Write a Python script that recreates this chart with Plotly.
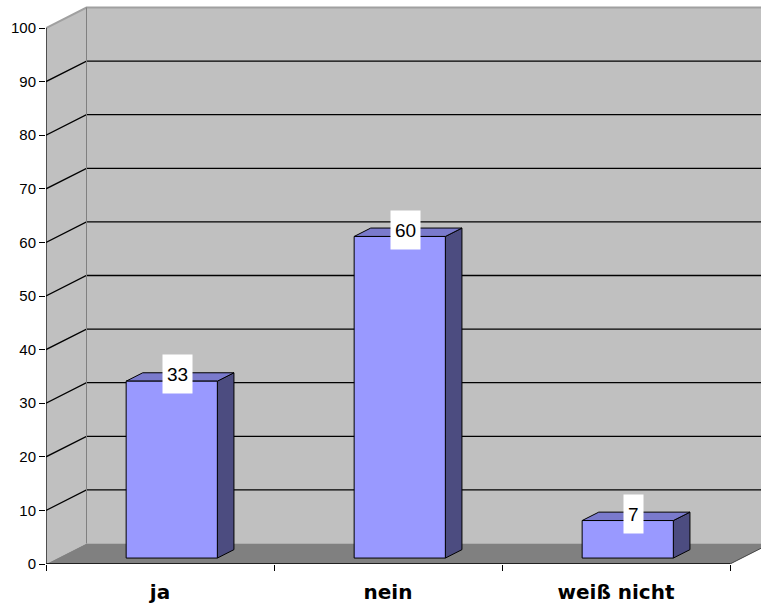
import plotly.graph_objects as go

# ---------------- data ----------------
categories = ["ja", "nein", "weiß nicht"]
values = [33, 60, 7]
y_ticks = list(range(0, 101, 10))

# ---------------- geometry / style constants ----------------
W, H = 761, 608
ML, MR, MT, MB = 46, 0, 0, 44
PX_PER_CAT = 228.0
PX_PER_UNIT = 5.36
XR = (W - ML - MR) / PX_PER_CAT
YR = (H - MT - MB) / PX_PER_UNIT
DX = 40.5 / PX_PER_CAT      # depth offset (x units)
DY = 20.5 / PX_PER_UNIT     # depth offset (y units)
F0, F1 = 0.29, 0.70         # bar depth band (fraction of depth)
BAR_W = 0.4                 # bar width as fraction of category
YMAX = max(y_ticks)
NCAT = len(categories)

WALL = "#C0C0C0"
FLOOR = "#808080"
FRONT = "#9999FF"
TOP = "#7A7ACC"
SIDE = "#4C4C80"

fig = go.Figure()


def poly(xs, ys, fill, line="rgba(0,0,0,0)", lw=0):
    fig.add_trace(go.Scatter(
        x=list(xs) + [xs[0]], y=list(ys) + [ys[0]], mode="lines",
        fill="toself", fillcolor=fill,
        line=dict(color=line, width=lw), hoverinfo="skip", showlegend=False))


def seg(xs, ys, color, lw):
    fig.add_trace(go.Scatter(
        x=xs, y=ys, mode="lines", line=dict(color=color, width=lw),
        hoverinfo="skip", showlegend=False))


XFAR = XR + 1.0
# side wall
poly([0, 0, DX, DX], [0, YMAX, YMAX + DY, DY], WALL)
# back wall
poly([DX, DX, XFAR, XFAR], [DY, YMAX + DY, YMAX + DY, DY], WALL)
# floor
poly([0, NCAT, NCAT + DX, XFAR, XFAR, DX], [0, 0, DY, DY, DY, DY], FLOOR)

# gridlines
for v in y_ticks[1:-1]:
    seg([0, DX, XFAR], [v, v + DY, v + DY], "#000000", 1.3)
# top edges
seg([0, DX, XFAR], [YMAX, YMAX + DY, YMAX + DY], "#A0A0A0", 2)
# wall corner
seg([DX, DX], [DY, YMAX + DY], "#808080", 1)
# axis lines
seg([0, 0], [0, YMAX], "#000000", 1.2)
seg([0, NCAT], [0, 0], "#202020", 2)
seg([NCAT, NCAT + DX * 1.2], [0, DY * 1.2], "#404040", 1)

# bars
bdx = (F1 - F0) * DX
bdy = (F1 - F0) * DY
for i, v in enumerate(values):
    x0 = i + (1 - BAR_W) / 2 + F0 * DX
    x1 = x0 + BAR_W
    y0 = F0 * DY
    y1 = y0 + v
    # side face
    poly([x1, x1 + bdx, x1 + bdx, x1], [y0, y0 + bdy, y1 + bdy, y1], SIDE, "#000000", 1)
    # top face
    poly([x0, x1, x1 + bdx, x0 + bdx], [y1, y1, y1 + bdy, y1 + bdy], TOP, "#000000", 1)
    # front face
    poly([x0, x1, x1, x0], [y0, y0, y1, y1], FRONT, "#000000", 1)
    fig.add_annotation(
        x=(x0 + x1) / 2 + 0.36 * bdx, y=y1 + 0.8 * bdy,
        text=str(v), showarrow=False, xanchor="center", yanchor="middle",
        bgcolor="#FFFFFF", height=30, borderpad=4,
        font=dict(family="Liberation Sans, Arial", size=19, color="#000000"))

fig.update_layout(
    width=W, height=H,
    margin=dict(l=ML, r=MR, t=MT, b=MB, pad=0, autoexpand=False),
    paper_bgcolor="#FFFFFF", plot_bgcolor="#FFFFFF",
    showlegend=False, hovermode=False,
    xaxis=dict(
        range=[0, XR], showgrid=False, zeroline=False, showline=False,
        automargin=False,
        tickvals=[i + 0.5 for i in range(NCAT)], ticktext=categories,
        ticks="", ticklabelstandoff=14,
        tickfont=dict(family="DejaVu Sans", size=20, color="#000000", weight="bold"),
        minor=dict(tickvals=list(range(NCAT + 1)), ticks="outside", ticklen=6,
                   tickcolor="#000000", tickwidth=1, showgrid=False),
        fixedrange=True),
    yaxis=dict(
        range=[0, YR], showgrid=False, zeroline=False, showline=False,
        automargin=False,
        tickvals=y_ticks, ticks="outside", ticklen=6, tickcolor="#000000",
        tickfont=dict(family="Liberation Sans, Arial", size=15, color="#000000"),
        fixedrange=True),
)

fig.write_html(
    "out.html",
    config={"displayModeBar": False, "staticPlot": True},
    post_script="document.body.style.margin='0';document.body.style.padding='0';",
)
